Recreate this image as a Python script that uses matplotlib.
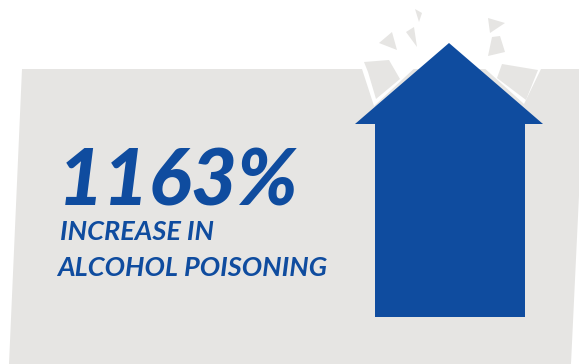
import matplotlib
matplotlib.use('Agg')
import matplotlib.pyplot as plt
from matplotlib.patches import Polygon

# headline figure and caption
stat_value = "1163%"
caption_lines = ["INCREASE IN", "ALCOHOL POISONING"]

BLUE = '#0F4C9F'
GRAY = '#E6E5E3'

# shapes in pixel coordinates (y down)
panel = [(22, 69), (585, 69), (571, 364), (9, 364)]
cutout = [(362, 69), (374, 106), (449, 36), (524, 104), (541, 69)]
arrow = [(449, 43), (543, 124), (525, 124), (525, 317),
         (375, 317), (375, 124), (355, 124)]
shards = [
    [(364, 62), (389, 60), (400, 79), (376, 99), (368, 72)],
    [(502, 64), (538, 70), (526, 100), (497, 78)],
    [(415, 9), (422, 13), (419, 22)],
    [(406, 32), (414, 27), (417, 47)],
    [(379, 43), (392, 32), (397, 50)],
    [(488, 18), (505, 23), (490, 33)],
    [(492, 37), (500, 36), (505, 52), (488, 56)],
]

fig = plt.figure(figsize=(5.79, 3.64), dpi=100)
ax = fig.add_axes([0, 0, 1, 1])
ax.set_xlim(0, 579)
ax.set_ylim(364, 0)
ax.axis('off')

ax.add_patch(Polygon(panel, closed=True, fc=GRAY, ec='none'))
ax.add_patch(Polygon(cutout, closed=True, fc='white', ec='none'))
for s in shards:
    ax.add_patch(Polygon(s, closed=True, fc=GRAY, ec='none'))
ax.add_patch(Polygon(arrow, closed=True, fc=BLUE, ec='none'))

ax.text(58, 205, stat_value, fontsize=57, fontfamily='Lato', fontweight='black',
        style='italic', color=BLUE, va='baseline', ha='left')
ax.text(60, 240, caption_lines[0], fontsize=19.5, fontfamily='Lato', fontweight='bold',
        style='italic', color=BLUE, va='baseline', ha='left')
ax.text(57, 276, caption_lines[1], fontsize=19.5, fontfamily='Lato', fontweight='bold',
        style='italic', color=BLUE, va='baseline', ha='left')

fig.savefig('out.png', dpi=100)
